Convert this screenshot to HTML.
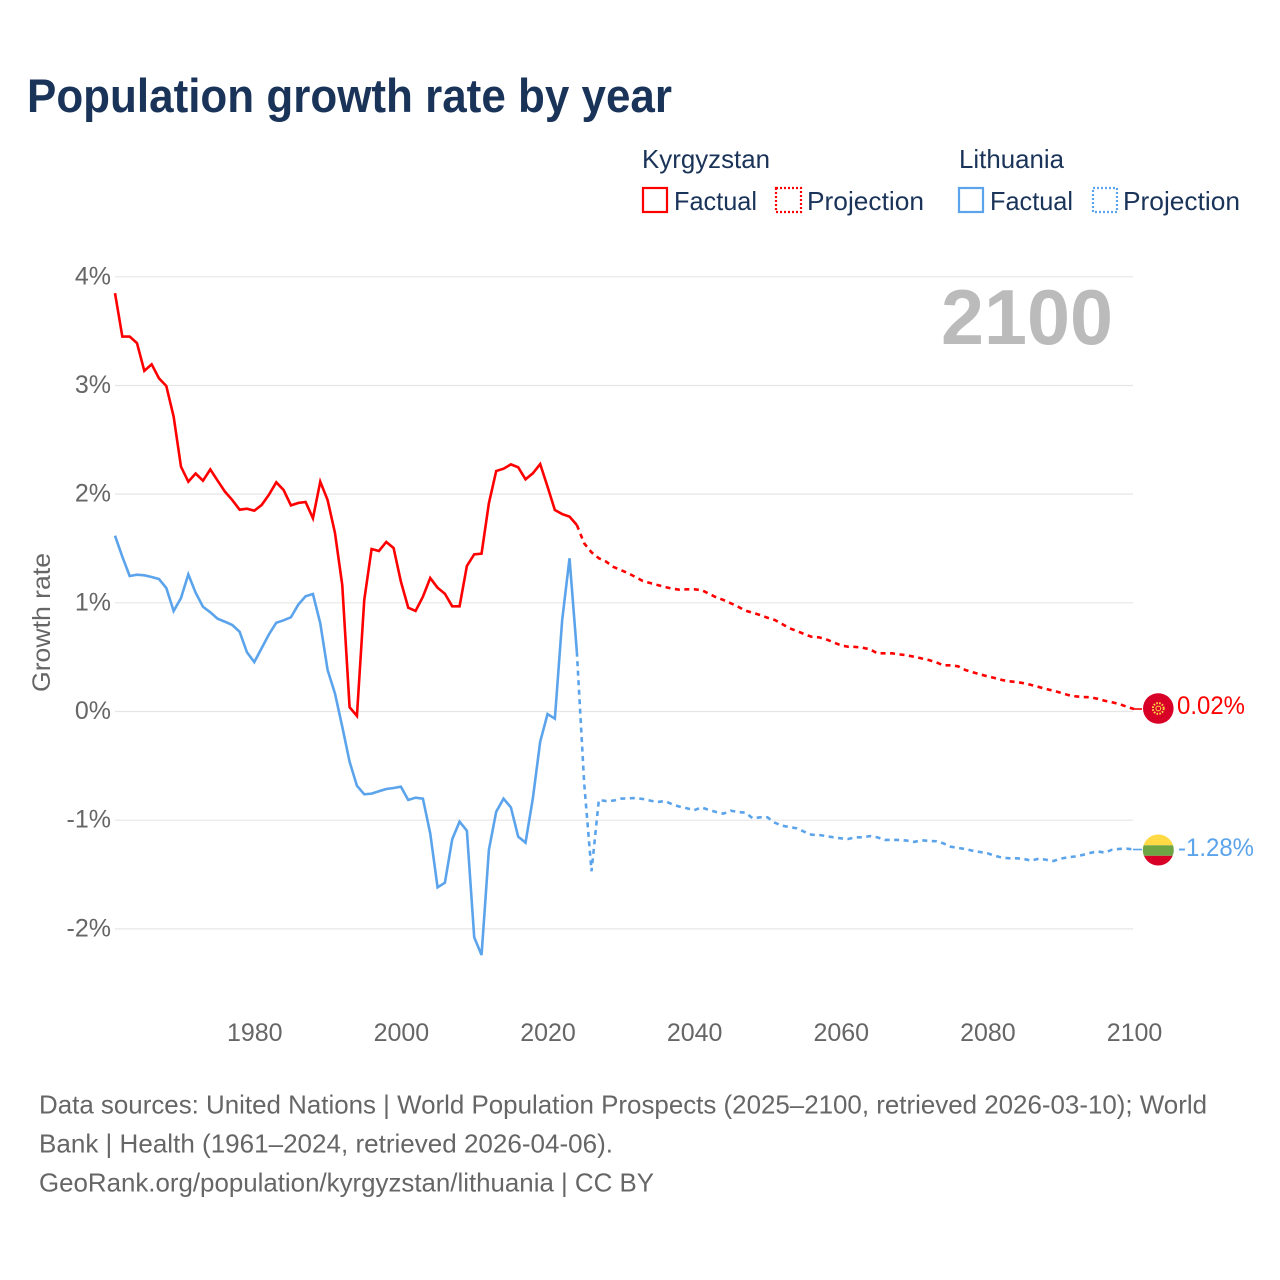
<!DOCTYPE html>
<html lang="en">
<head>
<meta charset="utf-8">
<title>Population growth rate by year</title>
<style>
html,body{margin:0;padding:0;background:#fff;}
svg{display:block;font-family:"Liberation Sans",sans-serif;}
</style>
</head>
<body>
<svg id="chart" width="1280" height="1280" viewBox="0 0 1280 1280">
  <rect x="0" y="0" width="1280" height="1280" fill="#ffffff"/>
  <text x="27" y="112" font-size="47" font-weight="700" fill="#1a3358" textLength="645" lengthAdjust="spacingAndGlyphs">Population growth rate by year</text>

  <g>
    <text x="642" y="168" font-size="26" fill="#1a3358" textLength="128" lengthAdjust="spacingAndGlyphs">Kyrgyzstan</text>
    <text x="959" y="168" font-size="26" fill="#1a3358" textLength="105" lengthAdjust="spacingAndGlyphs">Lithuania</text>
    <rect x="643" y="188" width="24" height="24" fill="none" stroke="#ff0000" stroke-width="2.2"/>
    <text x="674" y="210" font-size="26" fill="#1a3358" textLength="83" lengthAdjust="spacingAndGlyphs">Factual</text>
    <rect x="776" y="188" width="25" height="24" fill="none" stroke="#ff0000" stroke-width="2.2" stroke-dasharray="2 2"/>
    <text x="807" y="210" font-size="26" fill="#1a3358" textLength="117" lengthAdjust="spacingAndGlyphs">Projection</text>
    <rect x="959" y="188" width="24" height="24" fill="none" stroke="#5ba4ec" stroke-width="2.2"/>
    <text x="990" y="210" font-size="26" fill="#1a3358" textLength="83" lengthAdjust="spacingAndGlyphs">Factual</text>
    <rect x="1093" y="188" width="24" height="24" fill="none" stroke="#5ba4ec" stroke-width="2.2" stroke-dasharray="2 2"/>
    <text x="1123" y="210" font-size="26" fill="#1a3358" textLength="117" lengthAdjust="spacingAndGlyphs">Projection</text>
  </g>

  <g id="grid"></g>
  <g id="yticks"></g>
  <g id="xticks"></g>

  <text x="0" y="0" transform="translate(50,622.5) rotate(-90)" text-anchor="middle" font-size="25" fill="#666666" textLength="139" lengthAdjust="spacingAndGlyphs">Growth rate</text>
  <text x="941" y="344" font-size="78" font-weight="700" fill="#bbbbbb" textLength="172" lengthAdjust="spacingAndGlyphs">2100</text>

  <g id="series"></g>

  <g>
    <circle cx="1158.3" cy="708.5" r="15.3" fill="#d80027"/>
    <circle cx="1158.3" cy="708.5" r="5.4" fill="none" stroke="#ffda44" stroke-width="2" stroke-dasharray="1.6 1.3"/>
    <circle cx="1158.3" cy="708.5" r="2.4" fill="none" stroke="#ffda44" stroke-width="1"/>
  </g>
  <g>
    <clipPath id="lt-clip"><circle cx="1158.3" cy="850" r="15.5"/></clipPath>
    <g clip-path="url(#lt-clip)">
      <rect x="1142" y="834" width="33" height="11.3" fill="#ffda44"/>
      <rect x="1142" y="845.3" width="33" height="10.5" fill="#6da544"/>
      <rect x="1142" y="855.8" width="33" height="11" fill="#d80027"/>
    </g>
  </g>
  <text x="1177" y="714" font-size="25" fill="#ff0000" textLength="68" lengthAdjust="spacingAndGlyphs">0.02%</text>
  <text x="1178" y="856" font-size="25" fill="#5ba4ec" textLength="76" lengthAdjust="spacingAndGlyphs">-1.28%</text>

  <g>
    <text x="39" y="1113.5" font-size="26" fill="#666666" textLength="1168" lengthAdjust="spacingAndGlyphs">Data sources: United Nations | World Population Prospects (2025–2100, retrieved 2026-03-10); World</text>
    <text x="39" y="1152.5" font-size="26" fill="#666666" textLength="574" lengthAdjust="spacingAndGlyphs">Bank | Health (1961–2024, retrieved 2026-04-06).</text>
    <text x="39" y="1191.5" font-size="26" fill="#666666" textLength="615" lengthAdjust="spacingAndGlyphs">GeoRank.org/population/kyrgyzstan/lithuania | CC BY</text>
  </g>
</svg>
<script>
const xTickYears = [1980, 2000, 2020, 2040, 2060, 2080, 2100];
const yTickValues = [4, 3, 2, 1, 0, -1, -2];
const yTickLabels = ['4%', '3%', '2%', '1%', '0%', '-1%', '-2%'];

const factualStartYear = 1961;
const projectionStartYear = 2024;

const kyrgyzstanFactual = [
  3.85, 3.45, 3.45, 3.39, 3.135, 3.195, 3.066, 2.995, 2.713, 2.253,
  2.115, 2.19, 2.124, 2.228, 2.124, 2.023, 1.946, 1.857, 1.866, 1.848,
  1.90, 1.995, 2.109, 2.038, 1.897, 1.919, 1.928, 1.778, 2.115, 1.946,
  1.645, 1.164, 0.039, -0.041, 1.026, 1.495, 1.477, 1.56, 1.505, 1.195,
  0.955, 0.925, 1.056, 1.228, 1.139, 1.084, 0.968, 0.968, 1.339, 1.446,
  1.452, 1.916, 2.213, 2.234, 2.274, 2.247, 2.137, 2.192, 2.277, 2.069,
  1.854, 1.817, 1.793, 1.716
];
const kyrgyzstanProjection = [
  1.716, 1.548, 1.465, 1.41, 1.379, 1.33, 1.302,
  1.272, 1.238, 1.201, 1.182, 1.164, 1.146, 1.13, 1.121, 1.124, 1.124,
  1.118, 1.084, 1.051, 1.026, 0.996, 0.964, 0.928, 0.909, 0.888, 0.863,
  0.842, 0.805, 0.766, 0.741, 0.713, 0.688, 0.683, 0.664, 0.637, 0.609,
  0.596, 0.594, 0.587, 0.572, 0.535, 0.535, 0.535, 0.526, 0.517, 0.504,
  0.489, 0.474, 0.453, 0.425, 0.425, 0.416, 0.382, 0.361, 0.342, 0.324,
  0.308, 0.29, 0.278, 0.271, 0.26, 0.244, 0.226, 0.207, 0.191, 0.173,
  0.152, 0.14, 0.133, 0.131, 0.118, 0.099, 0.085, 0.069, 0.044, 0.023
];
const lithuaniaFactual = [
  1.618, 1.425, 1.247, 1.259, 1.253, 1.238, 1.219, 1.136, 0.925, 1.044,
  1.262, 1.093, 0.964, 0.913, 0.854, 0.826, 0.796, 0.734, 0.545, 0.455,
  0.582, 0.71, 0.817, 0.839, 0.867, 0.983, 1.06, 1.081, 0.812, 0.382,
  0.167, -0.14, -0.462, -0.683, -0.762, -0.756, -0.734, -0.713, -0.704, -0.692,
  -0.814, -0.793, -0.802, -1.121, -1.618, -1.575, -1.176, -1.014, -1.097, -2.078,
  -2.241, -1.275, -0.922, -0.802, -0.882, -1.152, -1.207, -0.799, -0.278, -0.023,
  -0.066, 0.842, 1.41, 0.55
];
const lithuaniaProjection = [
  0.55, -0.66, -1.47, -0.814, -0.824, -0.82, -0.802,
  -0.799, -0.796, -0.805, -0.82, -0.833, -0.824, -0.853, -0.875, -0.89, -0.909,
  -0.882, -0.906, -0.925, -0.94, -0.913, -0.925, -0.931, -0.983, -0.974, -0.974,
  -1.023, -1.051, -1.063, -1.075, -1.106, -1.134, -1.136, -1.146, -1.158, -1.167,
  -1.173, -1.158, -1.158, -1.146, -1.158, -1.182, -1.182, -1.182, -1.188, -1.2,
  -1.185, -1.191, -1.194, -1.213, -1.244, -1.256, -1.265, -1.281, -1.293, -1.305,
  -1.327, -1.345, -1.351, -1.351, -1.357, -1.373, -1.354, -1.364, -1.376, -1.354,
  -1.342, -1.333, -1.32, -1.302, -1.287, -1.299, -1.272, -1.265, -1.262, -1.27
];

const NS = 'http://www.w3.org/2000/svg';
function xScale(year) { return 115 + (year - 1961) * (1134 - 115) / (2100 - 1961); }
function yScale(value) { return 711.5 - value * 108.67; }

function linePath(startYear, values) {
  let d = '';
  for (let i = 0; i < values.length; i++) {
    d += (i ? 'L' : 'M') + xScale(startYear + i).toFixed(2) + ' ' + yScale(values[i]).toFixed(2);
  }
  return d;
}

const gridGroup = document.getElementById('grid');
const yTickGroup = document.getElementById('yticks');
yTickValues.forEach(function (value, i) {
  const line = document.createElementNS(NS, 'line');
  
  
  line.setAttribute('x1', 115);
  line.setAttribute('x2', 1133);
  line.setAttribute('y1', yScale(value));
  line.setAttribute('y2', yScale(value));
  line.setAttribute('stroke', '#e6e6e6');
  line.setAttribute('stroke-width', '1.2');
  gridGroup.appendChild(line);

  const label = document.createElementNS(NS, 'text');
  
  
  label.setAttribute('x', 111);
  label.setAttribute('y', yScale(value) + 7.5);
  label.setAttribute('text-anchor', 'end');
  label.setAttribute('font-size', '25');
  label.setAttribute('fill', '#666666');
  label.textContent = yTickLabels[i];
  yTickGroup.appendChild(label);
});

const xTickGroup = document.getElementById('xticks');
xTickYears.forEach(function (year) {
  const label = document.createElementNS(NS, 'text');
  
  
  label.setAttribute('x', xScale(year) + 0.5);
  label.setAttribute('y', 1041);
  label.setAttribute('text-anchor', 'middle');
  label.setAttribute('font-size', '25');
  label.setAttribute('fill', '#666666');
  label.textContent = String(year);
  xTickGroup.appendChild(label);
});

const seriesGroup = document.getElementById('series');

const lithuaniaFactualLine = document.createElementNS(NS, 'path');


lithuaniaFactualLine.setAttribute('d', linePath(factualStartYear, lithuaniaFactual));
lithuaniaFactualLine.setAttribute('fill', 'none');
lithuaniaFactualLine.setAttribute('stroke', '#5ba4ec');
lithuaniaFactualLine.setAttribute('stroke-width', '2.6');
seriesGroup.appendChild(lithuaniaFactualLine);

const lithuaniaProjectionLine = document.createElementNS(NS, 'path');


lithuaniaProjectionLine.setAttribute('d', linePath(projectionStartYear, lithuaniaProjection));
lithuaniaProjectionLine.setAttribute('fill', 'none');
lithuaniaProjectionLine.setAttribute('stroke', '#5ba4ec');
lithuaniaProjectionLine.setAttribute('stroke-width', '2.6');
lithuaniaProjectionLine.setAttribute('stroke-dasharray', '5 4.5');
seriesGroup.appendChild(lithuaniaProjectionLine);

const lithuaniaConnector = document.createElementNS(NS, 'line');


lithuaniaConnector.setAttribute('x1', xScale(2100) - 1);
lithuaniaConnector.setAttribute('x2', xScale(2100) + 8);
lithuaniaConnector.setAttribute('y1', yScale(lithuaniaProjection[lithuaniaProjection.length - 1]));
lithuaniaConnector.setAttribute('y2', yScale(lithuaniaProjection[lithuaniaProjection.length - 1]));
lithuaniaConnector.setAttribute('stroke', '#5ba4ec');
lithuaniaConnector.setAttribute('stroke-width', '1.6');
seriesGroup.appendChild(lithuaniaConnector);

const kyrgyzstanFactualLine = document.createElementNS(NS, 'path');


kyrgyzstanFactualLine.setAttribute('d', linePath(factualStartYear, kyrgyzstanFactual));
kyrgyzstanFactualLine.setAttribute('fill', 'none');
kyrgyzstanFactualLine.setAttribute('stroke', '#ff0000');
kyrgyzstanFactualLine.setAttribute('stroke-width', '2.6');
seriesGroup.appendChild(kyrgyzstanFactualLine);

const kyrgyzstanProjectionLine = document.createElementNS(NS, 'path');


kyrgyzstanProjectionLine.setAttribute('d', linePath(projectionStartYear, kyrgyzstanProjection));
kyrgyzstanProjectionLine.setAttribute('fill', 'none');
kyrgyzstanProjectionLine.setAttribute('stroke', '#ff0000');
kyrgyzstanProjectionLine.setAttribute('stroke-width', '2.6');
kyrgyzstanProjectionLine.setAttribute('stroke-dasharray', '5 4.5');
seriesGroup.appendChild(kyrgyzstanProjectionLine);

const kyrgyzstanConnector = document.createElementNS(NS, 'line');


kyrgyzstanConnector.setAttribute('x1', xScale(2100) - 1);
kyrgyzstanConnector.setAttribute('x2', xScale(2100) + 8);
kyrgyzstanConnector.setAttribute('y1', yScale(kyrgyzstanProjection[kyrgyzstanProjection.length - 1]));
kyrgyzstanConnector.setAttribute('y2', yScale(kyrgyzstanProjection[kyrgyzstanProjection.length - 1]));
kyrgyzstanConnector.setAttribute('stroke', '#ff0000');
kyrgyzstanConnector.setAttribute('stroke-width', '1.6');
seriesGroup.appendChild(kyrgyzstanConnector);
</script>
</body>
</html>
